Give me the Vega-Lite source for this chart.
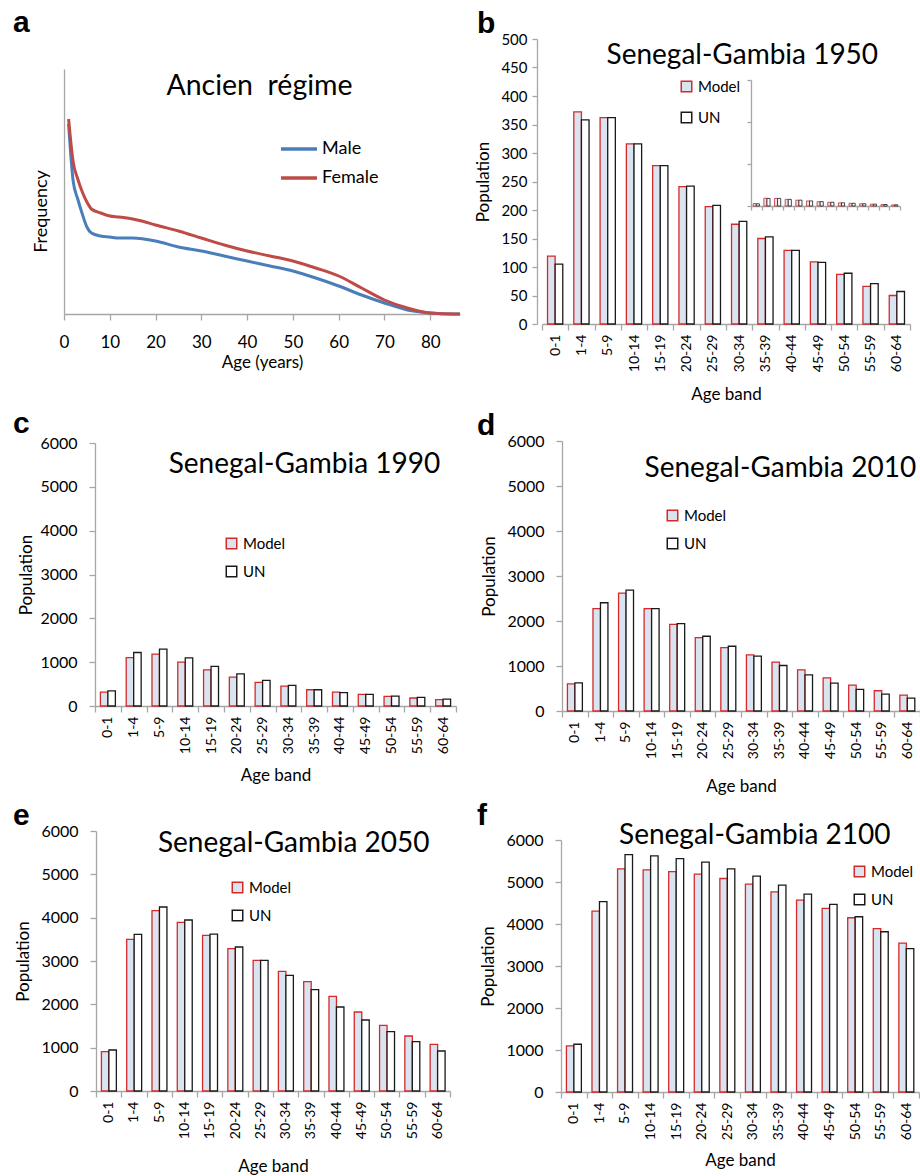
{
  "$schema": "https://vega.github.io/schema/vega-lite/v6.json",
  "padding": {"left": 13, "top": 8, "right": 0, "bottom": 0},
  "background": "white",
  "datasets": {
    "ancien": [
      {"age": 1, "sex": "Male", "freq": 190}, {"age": 2, "sex": "Male", "freq": 133}, {"age": 3, "sex": "Male", "freq": 115},
      {"age": 4, "sex": "Male", "freq": 100}, {"age": 5, "sex": "Male", "freq": 87}, {"age": 6, "sex": "Male", "freq": 81},
      {"age": 8, "sex": "Male", "freq": 78}, {"age": 10, "sex": "Male", "freq": 77}, {"age": 12, "sex": "Male", "freq": 76},
      {"age": 15, "sex": "Male", "freq": 76}, {"age": 20, "sex": "Male", "freq": 73}, {"age": 25, "sex": "Male", "freq": 67},
      {"age": 30, "sex": "Male", "freq": 63}, {"age": 35, "sex": "Male", "freq": 58}, {"age": 40, "sex": "Male", "freq": 53},
      {"age": 45, "sex": "Male", "freq": 48}, {"age": 50, "sex": "Male", "freq": 43}, {"age": 55, "sex": "Male", "freq": 36},
      {"age": 60, "sex": "Male", "freq": 28}, {"age": 65, "sex": "Male", "freq": 19}, {"age": 70, "sex": "Male", "freq": 11},
      {"age": 75, "sex": "Male", "freq": 4}, {"age": 80, "sex": "Male", "freq": 1}, {"age": 85, "sex": "Male", "freq": 0},
      {"age": 86.5, "sex": "Male", "freq": 0},
      {"age": 1, "sex": "Female", "freq": 195}, {"age": 2, "sex": "Female", "freq": 152}, {"age": 3, "sex": "Female", "freq": 135},
      {"age": 4, "sex": "Female", "freq": 122}, {"age": 5, "sex": "Female", "freq": 112}, {"age": 6, "sex": "Female", "freq": 105},
      {"age": 8, "sex": "Female", "freq": 101}, {"age": 10, "sex": "Female", "freq": 98}, {"age": 12, "sex": "Female", "freq": 97},
      {"age": 15, "sex": "Female", "freq": 95}, {"age": 17, "sex": "Female", "freq": 93}, {"age": 20, "sex": "Female", "freq": 89},
      {"age": 25, "sex": "Female", "freq": 83}, {"age": 30, "sex": "Female", "freq": 76}, {"age": 35, "sex": "Female", "freq": 69},
      {"age": 40, "sex": "Female", "freq": 63}, {"age": 45, "sex": "Female", "freq": 58}, {"age": 50, "sex": "Female", "freq": 53},
      {"age": 55, "sex": "Female", "freq": 46}, {"age": 60, "sex": "Female", "freq": 38}, {"age": 65, "sex": "Female", "freq": 26},
      {"age": 70, "sex": "Female", "freq": 14}, {"age": 75, "sex": "Female", "freq": 6}, {"age": 80, "sex": "Female", "freq": 1},
      {"age": 85, "sex": "Female", "freq": 0}, {"age": 86.5, "sex": "Female", "freq": 0}
    ],
    "sg1950": [
      {"band": "0-1", "source": "Model", "pop": 119}, {"band": "0-1", "source": "UN", "pop": 105},
      {"band": "1-4", "source": "Model", "pop": 372}, {"band": "1-4", "source": "UN", "pop": 358},
      {"band": "5-9", "source": "Model", "pop": 362}, {"band": "5-9", "source": "UN", "pop": 362},
      {"band": "10-14", "source": "Model", "pop": 316}, {"band": "10-14", "source": "UN", "pop": 316},
      {"band": "15-19", "source": "Model", "pop": 278}, {"band": "15-19", "source": "UN", "pop": 278},
      {"band": "20-24", "source": "Model", "pop": 241}, {"band": "20-24", "source": "UN", "pop": 242},
      {"band": "25-29", "source": "Model", "pop": 206}, {"band": "25-29", "source": "UN", "pop": 208},
      {"band": "30-34", "source": "Model", "pop": 175}, {"band": "30-34", "source": "UN", "pop": 180},
      {"band": "35-39", "source": "Model", "pop": 150}, {"band": "35-39", "source": "UN", "pop": 153},
      {"band": "40-44", "source": "Model", "pop": 129}, {"band": "40-44", "source": "UN", "pop": 129},
      {"band": "45-49", "source": "Model", "pop": 109}, {"band": "45-49", "source": "UN", "pop": 108},
      {"band": "50-54", "source": "Model", "pop": 87}, {"band": "50-54", "source": "UN", "pop": 89},
      {"band": "55-59", "source": "Model", "pop": 66}, {"band": "55-59", "source": "UN", "pop": 71},
      {"band": "60-64", "source": "Model", "pop": 50}, {"band": "60-64", "source": "UN", "pop": 57}
    ],
    "sg1990": [
      {"band": "0-1", "source": "Model", "pop": 315}, {"band": "0-1", "source": "UN", "pop": 343},
      {"band": "1-4", "source": "Model", "pop": 1103}, {"band": "1-4", "source": "UN", "pop": 1220},
      {"band": "5-9", "source": "Model", "pop": 1183}, {"band": "5-9", "source": "UN", "pop": 1298},
      {"band": "10-14", "source": "Model", "pop": 1000}, {"band": "10-14", "source": "UN", "pop": 1100},
      {"band": "15-19", "source": "Model", "pop": 826}, {"band": "15-19", "source": "UN", "pop": 902},
      {"band": "20-24", "source": "Model", "pop": 659}, {"band": "20-24", "source": "UN", "pop": 735},
      {"band": "25-29", "source": "Model", "pop": 538}, {"band": "25-29", "source": "UN", "pop": 583},
      {"band": "30-34", "source": "Model", "pop": 455}, {"band": "30-34", "source": "UN", "pop": 470},
      {"band": "35-39", "source": "Model", "pop": 371}, {"band": "35-39", "source": "UN", "pop": 371},
      {"band": "40-44", "source": "Model", "pop": 318}, {"band": "40-44", "source": "UN", "pop": 303},
      {"band": "45-49", "source": "Model", "pop": 265}, {"band": "45-49", "source": "UN", "pop": 265},
      {"band": "50-54", "source": "Model", "pop": 220}, {"band": "50-54", "source": "UN", "pop": 227},
      {"band": "55-59", "source": "Model", "pop": 182}, {"band": "55-59", "source": "UN", "pop": 197},
      {"band": "60-64", "source": "Model", "pop": 144}, {"band": "60-64", "source": "UN", "pop": 159}
    ],
    "sg2010": [
      {"band": "0-1", "source": "Model", "pop": 605}, {"band": "0-1", "source": "UN", "pop": 627},
      {"band": "1-4", "source": "Model", "pop": 2273}, {"band": "1-4", "source": "UN", "pop": 2406},
      {"band": "5-9", "source": "Model", "pop": 2620}, {"band": "5-9", "source": "UN", "pop": 2686},
      {"band": "10-14", "source": "Model", "pop": 2273}, {"band": "10-14", "source": "UN", "pop": 2273},
      {"band": "15-19", "source": "Model", "pop": 1926}, {"band": "15-19", "source": "UN", "pop": 1941},
      {"band": "20-24", "source": "Model", "pop": 1631}, {"band": "20-24", "source": "UN", "pop": 1661},
      {"band": "25-29", "source": "Model", "pop": 1410}, {"band": "25-29", "source": "UN", "pop": 1439},
      {"band": "30-34", "source": "Model", "pop": 1247}, {"band": "30-34", "source": "UN", "pop": 1218},
      {"band": "35-39", "source": "Model", "pop": 1085}, {"band": "35-39", "source": "UN", "pop": 1011},
      {"band": "40-44", "source": "Model", "pop": 915}, {"band": "40-44", "source": "UN", "pop": 804},
      {"band": "45-49", "source": "Model", "pop": 738}, {"band": "45-49", "source": "UN", "pop": 620},
      {"band": "50-54", "source": "Model", "pop": 576}, {"band": "50-54", "source": "UN", "pop": 480},
      {"band": "55-59", "source": "Model", "pop": 450}, {"band": "55-59", "source": "UN", "pop": 376},
      {"band": "60-64", "source": "Model", "pop": 354}, {"band": "60-64", "source": "UN", "pop": 288}
    ],
    "sg2050": [
      {"band": "0-1", "source": "Model", "pop": 908}, {"band": "0-1", "source": "UN", "pop": 946},
      {"band": "1-4", "source": "Model", "pop": 3500}, {"band": "1-4", "source": "UN", "pop": 3615},
      {"band": "5-9", "source": "Model", "pop": 4162}, {"band": "5-9", "source": "UN", "pop": 4246},
      {"band": "10-14", "source": "Model", "pop": 3892}, {"band": "10-14", "source": "UN", "pop": 3946},
      {"band": "15-19", "source": "Model", "pop": 3590}, {"band": "15-19", "source": "UN", "pop": 3620},
      {"band": "20-24", "source": "Model", "pop": 3285}, {"band": "20-24", "source": "UN", "pop": 3323},
      {"band": "25-29", "source": "Model", "pop": 3015}, {"band": "25-29", "source": "UN", "pop": 3015},
      {"band": "30-34", "source": "Model", "pop": 2762}, {"band": "30-34", "source": "UN", "pop": 2669},
      {"band": "35-39", "source": "Model", "pop": 2523}, {"band": "35-39", "source": "UN", "pop": 2338},
      {"band": "40-44", "source": "Model", "pop": 2185}, {"band": "40-44", "source": "UN", "pop": 1938},
      {"band": "45-49", "source": "Model", "pop": 1823}, {"band": "45-49", "source": "UN", "pop": 1638},
      {"band": "50-54", "source": "Model", "pop": 1515}, {"band": "50-54", "source": "UN", "pop": 1369},
      {"band": "55-59", "source": "Model", "pop": 1269}, {"band": "55-59", "source": "UN", "pop": 1138},
      {"band": "60-64", "source": "Model", "pop": 1077}, {"band": "60-64", "source": "UN", "pop": 923}
    ],
    "sg2100": [
      {"band": "0-1", "source": "Model", "pop": 1097}, {"band": "0-1", "source": "UN", "pop": 1137},
      {"band": "1-4", "source": "Model", "pop": 4305}, {"band": "1-4", "source": "UN", "pop": 4535},
      {"band": "5-9", "source": "Model", "pop": 5311}, {"band": "5-9", "source": "UN", "pop": 5652},
      {"band": "10-14", "source": "Model", "pop": 5287}, {"band": "10-14", "source": "UN", "pop": 5620},
      {"band": "15-19", "source": "Model", "pop": 5249}, {"band": "15-19", "source": "UN", "pop": 5558},
      {"band": "20-24", "source": "Model", "pop": 5186}, {"band": "20-24", "source": "UN", "pop": 5471},
      {"band": "25-29", "source": "Model", "pop": 5083}, {"band": "25-29", "source": "UN", "pop": 5313},
      {"band": "30-34", "source": "Model", "pop": 4948}, {"band": "30-34", "source": "UN", "pop": 5139},
      {"band": "35-39", "source": "Model", "pop": 4766}, {"band": "35-39", "source": "UN", "pop": 4925},
      {"band": "40-44", "source": "Model", "pop": 4568}, {"band": "40-44", "source": "UN", "pop": 4711},
      {"band": "45-49", "source": "Model", "pop": 4371}, {"band": "45-49", "source": "UN", "pop": 4466},
      {"band": "50-54", "source": "Model", "pop": 4149}, {"band": "50-54", "source": "UN", "pop": 4173},
      {"band": "55-59", "source": "Model", "pop": 3888}, {"band": "55-59", "source": "UN", "pop": 3816},
      {"band": "60-64", "source": "Model", "pop": 3547}, {"band": "60-64", "source": "UN", "pop": 3412}
    ]
  },
  "columns": 2,
  "bounds": "flush",
  "align": "all",
  "spacing": {"row": 111, "column": 0},
  "resolve": {"scale": {"fill": "independent", "stroke": "independent", "color": "independent"}},
  "concat": [
    {
      "title": {"text": "a", "dx": -51, "offset": 1},
      "width": 473,
      "height": 285,
      "layer": [
        {
          "data": {"name": "ancien"},
          "mark": {"type": "line", "strokeWidth": 3, "interpolate": "monotone"},
          "encoding": {
            "x": {"field": "age", "type": "quantitative",
                  "scale": {"domain": [0, 86.5], "range": [0, 396], "nice": false, "zero": false},
                  "axis": {"values": [0, 10, 20, 30, 40, 50, 60, 70, 80], "title": "Age (years)", "offset": -10,
                           "tickSize": 6, "labelPadding": 14, "labelFontSize": 17, "titleFontSize": 17, "titlePadding": 4, "labelFlush": false}},
            "y": {"field": "freq", "type": "quantitative",
                  "scale": {"domain": [0, 245], "range": [275, 30], "nice": false},
                  "axis": {"title": "Frequency", "labels": false, "ticks": false, "titlePadding": 14, "titleFontSize": 18, "titleY": 172}},
            "color": {"field": "sex", "type": "nominal",
                      "scale": {"domain": ["Male", "Female"], "range": ["#4a7ebb", "#be4b48"]},
                      "legend": {"orient": "none", "legendX": 215, "legendY": 90, "title": null, "symbolType": "stroke",
                                 "symbolSize": 1296, "symbolStrokeWidth": 3.5, "labelFontSize": 18, "labelOffset": 3,
                                 "rowPadding": -7, "padding": 0}}
          }
        },
        {
          "data": {"values": [{}]},
          "mark": {"type": "text", "fontSize": 28.5, "align": "center", "baseline": "middle"},
          "encoding": {"x": {"datum": 42.7}, "y": {"datum": 228}, "text": {"value": "Ancien\u00a0 régime"}}
        }
      ]
    },
    {
      "title": {"text": "b", "dx": -60, "offset": -7},
      "width": 373,
      "height": 285,
      "layer": [
        {
          "data": {"name": "sg1950"},
          "mark": {"type": "bar", "strokeWidth": 1.3},
          "encoding": {
            "x": {"field": "band", "type": "nominal",
                  "scale": {"domain": ["0-1","1-4","5-9","10-14","15-19","20-24","25-29","30-34","35-39","40-44","45-49","50-54","55-59","60-64"],
                            "paddingInner": 0, "paddingOuter": 0, "range": [5, 373]},
                  "axis": {"title": "Age band", "labelAngle": -90, "labelFontSize": 14, "tickSize": 6, "labelPadding": 4,
                           "tickBand": "extent", "titleFontSize": 17, "titlePadding": 15}},
            "xOffset": {"field": "source", "type": "nominal", "scale": {"domain": ["Model", "UN"], "paddingInner": 0, "paddingOuter": 0.724}},
            "y": {"field": "pop", "type": "quantitative",
                  "scale": {"domain": [0, 500], "range": [285, 0], "nice": false},
                  "axis": {"title": "Population", "values": [0, 50, 100, 150, 200, 250, 300, 350, 400, 450, 500],
                           "labelOverlap": false, "tickSize": 5, "labelPadding": 5, "labelFontSize": 15, "titleFontSize": 17, "titlePadding": 8}},
            "fill": {"field": "source", "type": "nominal", "scale": {"domain": ["Model", "UN"], "range": ["#dae3f0", "#ffffff"]},
                     "legend": {"orient": "none", "legendX": 142, "legendY": 40, "title": null, "symbolType": "square", "symbolSize": 110,
                                "symbolStrokeWidth": 1.5, "labelFontSize": 15, "labelOffset": 4, "rowPadding": 14, "padding": 0}},
            "stroke": {"field": "source", "type": "nominal", "scale": {"domain": ["Model", "UN"], "range": ["#d42a2a", "#1a1a1a"]},
                       "legend": {"orient": "none", "legendX": 142, "legendY": 40, "title": null, "symbolType": "square", "symbolSize": 110,
                                  "symbolStrokeWidth": 1.5, "labelFontSize": 15, "labelOffset": 4, "rowPadding": 14, "padding": 0}}
          }
        },
        {
          "layer": [
            {
              "data": {"name": "sg1950"},
              "mark": {"type": "bar", "strokeWidth": 0.8},
              "encoding": {
                "x": {"field": "band", "type": "nominal",
                      "scale": {"domain": ["0-1","1-4","5-9","10-14","15-19","20-24","25-29","30-34","35-39","40-44","45-49","50-54","55-59","60-64"],
                                "paddingInner": 0, "paddingOuter": 0, "range": [214, 363]},
                      "axis": {"orient": "bottom", "offset": -118, "labels": false, "title": null, "tickBand": "extent", "tickSize": 4}},
                "xOffset": {"field": "source", "type": "nominal", "scale": {"domain": ["Model", "UN"], "paddingInner": 0, "paddingOuter": 0.724}},
                "y": {"field": "pop", "type": "quantitative",
                      "scale": {"domain": [0, 6000], "range": [167, 41], "nice": false},
                      "axis": {"orient": "left", "offset": -214, "values": [0, 2000, 4000, 6000], "labels": false, "title": null, "tickSize": 4}},
                "fill": {"field": "source", "type": "nominal"},
                "stroke": {"field": "source", "type": "nominal"}
              }
            },
            {
              "data": {"values": [{}]},
              "mark": {"type": "text", "fontSize": 28, "align": "center", "baseline": "middle", "dx": -14},
              "encoding": {"x": {"datum": "0-1"}, "y": {"datum": 7143}, "text": {"value": "Senegal-Gambia 1950"}}
            }
          ]
        }
      ],
      "resolve": {"scale": {"x": "independent", "y": "independent", "xOffset": "independent"}}
    },
    {
      "title": {"text": "c", "dx": -51, "offset": -4},
      "width": 473,
      "height": 285,
      "layer": [
        {
          "data": {"name": "sg1990"},
          "mark": {"type": "bar", "strokeWidth": 1.3},
          "encoding": {
            "x": {"field": "band", "type": "nominal",
                  "scale": {"domain": ["0-1","1-4","5-9","10-14","15-19","20-24","25-29","30-34","35-39","40-44","45-49","50-54","55-59","60-64"],
                            "paddingInner": 0, "paddingOuter": 0, "range": [31, 392]},
                  "axis": {"title": "Age band", "offset": -14, "labelAngle": -90, "labelFontSize": 14, "tickSize": 6, "labelPadding": 4,
                           "tickBand": "extent", "titleFontSize": 17, "titlePadding": 14}},
            "xOffset": {"field": "source", "type": "nominal", "scale": {"domain": ["Model", "UN"], "paddingInner": 0, "paddingOuter": 0.724}},
            "y": {"field": "pop", "type": "quantitative",
                  "scale": {"domain": [0, 6000], "range": [271, 8], "nice": false},
                  "axis": {"title": "Population", "offset": -31, "values": [0, 1000, 2000, 3000, 4000, 5000, 6000], "format": "d",
                           "tickSize": 6, "labelPadding": 12, "labelFontSize": 16, "titleFontSize": 17, "titlePadding": 4}},
            "fill": {"field": "source", "type": "nominal", "scale": {"domain": ["Model", "UN"], "range": ["#dae3f0", "#ffffff"]},
                     "legend": {"orient": "none", "legendX": 160, "legendY": 101, "title": null, "symbolType": "square", "symbolSize": 110,
                                "symbolStrokeWidth": 1.5, "labelFontSize": 15, "labelOffset": 4, "rowPadding": 11, "padding": 0}},
            "stroke": {"field": "source", "type": "nominal", "scale": {"domain": ["Model", "UN"], "range": ["#d42a2a", "#1a1a1a"]},
                       "legend": {"orient": "none", "legendX": 160, "legendY": 101, "title": null, "symbolType": "square", "symbolSize": 110,
                                  "symbolStrokeWidth": 1.5, "labelFontSize": 15, "labelOffset": 4, "rowPadding": 11, "padding": 0}}
          }
        },
        {
          "data": {"values": [{}]},
          "mark": {"type": "text", "fontSize": 28, "align": "center", "baseline": "middle", "dx": 16},
          "encoding": {"x": {"datum": "30-34"}, "y": {"datum": 5498}, "text": {"value": "Senegal-Gambia 1990"}}
        }
      ]
    },
    {
      "title": {"text": "d", "dx": -60, "offset": -8},
      "width": 383,
      "height": 285,
      "layer": [
        {
          "data": {"name": "sg2010"},
          "mark": {"type": "bar", "strokeWidth": 1.3},
          "encoding": {
            "x": {"field": "band", "type": "nominal",
                  "scale": {"domain": ["0-1","1-4","5-9","10-14","15-19","20-24","25-29","30-34","35-39","40-44","45-49","50-54","55-59","60-64"],
                            "paddingInner": 0, "paddingOuter": 0, "range": [25, 383]},
                  "axis": {"title": "Age band", "offset": -9, "labelAngle": -90, "labelFontSize": 14, "tickSize": 6, "labelPadding": 4,
                           "tickBand": "extent", "titleFontSize": 17, "titlePadding": 20}},
            "xOffset": {"field": "source", "type": "nominal", "scale": {"domain": ["Model", "UN"], "paddingInner": 0, "paddingOuter": 0.724}},
            "y": {"field": "pop", "type": "quantitative",
                  "scale": {"domain": [0, 6000], "range": [276, 6], "nice": false},
                  "axis": {"title": "Population", "offset": -25, "values": [0, 1000, 2000, 3000, 4000, 5000, 6000], "format": "d",
                           "tickSize": 6, "labelPadding": 12, "labelFontSize": 16, "titleFontSize": 17, "titlePadding": 8}},
            "fill": {"field": "source", "type": "nominal", "scale": {"domain": ["Model", "UN"], "range": ["#dae3f0", "#ffffff"]},
                     "legend": {"orient": "none", "legendX": 128, "legendY": 73, "title": null, "symbolType": "square", "symbolSize": 110,
                                "symbolStrokeWidth": 1.5, "labelFontSize": 15, "labelOffset": 4, "rowPadding": 11, "padding": 0}},
            "stroke": {"field": "source", "type": "nominal", "scale": {"domain": ["Model", "UN"], "range": ["#d42a2a", "#1a1a1a"]},
                       "legend": {"orient": "none", "legendX": 128, "legendY": 73, "title": null, "symbolType": "square", "symbolSize": 110,
                                  "symbolStrokeWidth": 1.5, "labelFontSize": 15, "labelOffset": 4, "rowPadding": 11, "padding": 0}}
          }
        },
        {
          "data": {"values": [{}]},
          "mark": {"type": "text", "fontSize": 28, "align": "center", "baseline": "middle", "dx": 1},
          "encoding": {"x": {"datum": "35-39"}, "y": {"datum": 5378}, "text": {"value": "Senegal-Gambia 2010"}}
        }
      ]
    },
    {
      "title": {"text": "e", "dx": -51, "offset": -8},
      "width": 473,
      "height": 285,
      "layer": [
        {
          "data": {"name": "sg2050"},
          "mark": {"type": "bar", "strokeWidth": 1.3},
          "encoding": {
            "x": {"field": "band", "type": "nominal",
                  "scale": {"domain": ["0-1","1-4","5-9","10-14","15-19","20-24","25-29","30-34","35-39","40-44","45-49","50-54","55-59","60-64"],
                            "paddingInner": 0, "paddingOuter": 0, "range": [32, 386]},
                  "axis": {"title": "Age band", "offset": -25, "labelAngle": -90, "labelFontSize": 14, "tickSize": 6, "labelPadding": 4,
                           "tickBand": "extent", "titleFontSize": 17, "titlePadding": 20}},
            "xOffset": {"field": "source", "type": "nominal", "scale": {"domain": ["Model", "UN"], "paddingInner": 0, "paddingOuter": 0.724}},
            "y": {"field": "pop", "type": "quantitative",
                  "scale": {"domain": [0, 6000], "range": [260, 0], "nice": false},
                  "axis": {"title": "Population", "offset": -32, "values": [0, 1000, 2000, 3000, 4000, 5000, 6000], "format": "d",
                           "tickSize": 6, "labelPadding": 12, "labelFontSize": 16, "titleFontSize": 17, "titlePadding": 8}},
            "fill": {"field": "source", "type": "nominal", "scale": {"domain": ["Model", "UN"], "range": ["#dae3f0", "#ffffff"]},
                     "legend": {"orient": "none", "legendX": 166, "legendY": 49, "title": null, "symbolType": "square", "symbolSize": 110,
                                "symbolStrokeWidth": 1.5, "labelFontSize": 15, "labelOffset": 4, "rowPadding": 11, "padding": 0}},
            "stroke": {"field": "source", "type": "nominal", "scale": {"domain": ["Model", "UN"], "range": ["#d42a2a", "#1a1a1a"]},
                       "legend": {"orient": "none", "legendX": 166, "legendY": 49, "title": null, "symbolType": "square", "symbolSize": 110,
                                  "symbolStrokeWidth": 1.5, "labelFontSize": 15, "labelOffset": 4, "rowPadding": 11, "padding": 0}}
          }
        },
        {
          "data": {"values": [{}]},
          "mark": {"type": "text", "fontSize": 28, "align": "center", "baseline": "middle", "dx": 8},
          "encoding": {"x": {"datum": "30-34"}, "y": {"datum": 5700}, "text": {"value": "Senegal-Gambia 2050"}}
        }
      ]
    },
    {
      "title": {"text": "f", "dx": -60, "offset": -9},
      "width": 382,
      "height": 285,
      "layer": [
        {
          "data": {"name": "sg2100"},
          "mark": {"type": "bar", "strokeWidth": 1.3},
          "encoding": {
            "x": {"field": "band", "type": "nominal",
                  "scale": {"domain": ["0-1","1-4","5-9","10-14","15-19","20-24","25-29","30-34","35-39","40-44","45-49","50-54","55-59","60-64"],
                            "paddingInner": 0, "paddingOuter": 0, "range": [24, 382]},
                  "axis": {"title": "Age band", "offset": -24, "labelAngle": -90, "labelFontSize": 14, "tickSize": 6, "labelPadding": 4,
                           "tickBand": "extent", "titleFontSize": 17, "titlePadding": 13}},
            "xOffset": {"field": "source", "type": "nominal", "scale": {"domain": ["Model", "UN"], "paddingInner": 0, "paddingOuter": 0.724}},
            "y": {"field": "pop", "type": "quantitative",
                  "scale": {"domain": [0, 6000], "range": [261, 9], "nice": false},
                  "axis": {"title": "Population", "offset": -24, "values": [0, 1000, 2000, 3000, 4000, 5000, 6000], "format": "d",
                           "tickSize": 6, "labelPadding": 12, "labelFontSize": 16, "titleFontSize": 17, "titlePadding": 8}},
            "fill": {"field": "source", "type": "nominal", "scale": {"domain": ["Model", "UN"], "range": ["#dae3f0", "#ffffff"]},
                     "legend": {"orient": "none", "legendX": 315, "legendY": 33, "title": null, "symbolType": "square", "symbolSize": 110,
                                "symbolStrokeWidth": 1.5, "labelFontSize": 15, "labelOffset": 4, "rowPadding": 11, "padding": 0}},
            "stroke": {"field": "source", "type": "nominal", "scale": {"domain": ["Model", "UN"], "range": ["#d42a2a", "#1a1a1a"]},
                       "legend": {"orient": "none", "legendX": 315, "legendY": 33, "title": null, "symbolType": "square", "symbolSize": 110,
                                  "symbolStrokeWidth": 1.5, "labelFontSize": 15, "labelOffset": 4, "rowPadding": 11, "padding": 0}}
          }
        },
        {
          "data": {"values": [{}]},
          "mark": {"type": "text", "fontSize": 28, "align": "center", "baseline": "middle", "dx": 2},
          "encoding": {"x": {"datum": "30-34"}, "y": {"datum": 6095}, "text": {"value": "Senegal-Gambia 2100"}}
        }
      ]
    }
  ],
  "config": {
    "font": "Lato",
    "view": {"stroke": null},
    "axis": {"domainColor": "#a6a6a6", "domainWidth": 1.3, "tickColor": "#a6a6a6", "tickWidth": 1.3, "grid": false, "labelOverlap": false,
             "labelColor": "#000000", "titleColor": "#000000", "titleFontWeight": "normal", "labelFont": "Lato", "titleFont": "Lato"},
    "legend": {"labelFont": "Lato", "labelColor": "#000000"},
    "text": {"font": "Lato", "color": "#000000"},
    "title": {"font": "Liberation Sans", "fontWeight": "bold", "fontSize": 30, "anchor": "start", "frame": "group",
              "baseline": "alphabetic", "color": "#000000"}
  }
}
